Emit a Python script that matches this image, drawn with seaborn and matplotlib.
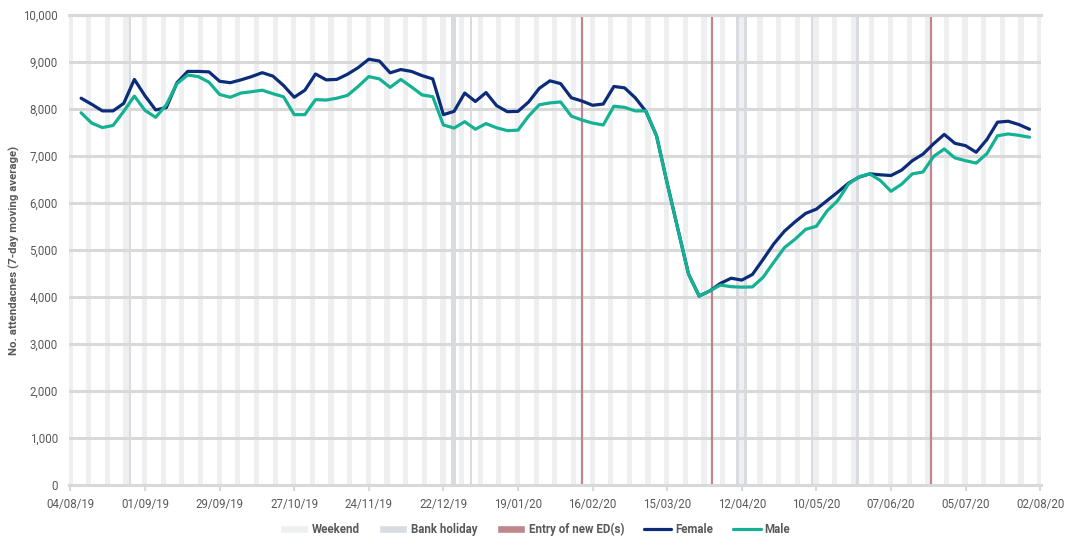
import pandas as pd
import matplotlib.pyplot as plt
import matplotlib.ticker as mticker
from matplotlib.patches import Patch
from matplotlib.lines import Line2D
import seaborn as sns

# 7-day moving average, read every 4 days from 08/08/19
dates = pd.date_range("2019-08-08", periods=90, freq="4D")

female = [8230, 8100, 7960, 7960, 8120, 8630, 8280, 7980, 8030, 8560,
          8800, 8800, 8790, 8590, 8560, 8620, 8690, 8773, 8700, 8500,
          8250, 8400, 8745, 8620, 8630, 8740, 8880, 9060, 9020, 8770,
          8840, 8800, 8710, 8640, 7880, 7950, 8340, 8160, 8350, 8070,
          7943, 7950, 8150, 8440, 8600, 8540, 8240, 8170, 8080, 8106,
          8480, 8450, 8240, 7950, 7430, 6420, 5450, 4490, 4020, 4130,
          4290, 4400, 4360, 4480, 4800, 5130, 5400, 5600, 5780, 5870,
          6050, 6230, 6420, 6550, 6620, 6600, 6585, 6700, 6900, 7040,
          7260, 7460, 7270, 7220, 7080, 7350, 7720, 7740, 7670, 7570]

male = [7920, 7700, 7605, 7650, 7950, 8275, 7970, 7823, 8090, 8540,
        8723, 8690, 8570, 8310, 8250, 8340, 8368, 8400, 8326, 8260,
        7880, 7880, 8200, 8190, 8230, 8290, 8480, 8690, 8640, 8460,
        8630, 8470, 8300, 8262, 7660, 7595, 7730, 7570, 7690, 7600,
        7540, 7550, 7850, 8090, 8130, 8150, 7850, 7766, 7700, 7660,
        8060, 8035, 7960, 7960, 7430, 6420, 5450, 4490, 4020, 4130,
        4255, 4220, 4210, 4215, 4420, 4740, 5050, 5230, 5440, 5505,
        5830, 6050, 6400, 6560, 6620, 6480, 6250, 6400, 6620, 6660,
        6990, 7150, 6960, 6900, 6850, 7050, 7430, 7470, 7440, 7400]

bank_holidays = ["2019-08-26", "2019-12-25", "2019-12-26", "2020-01-01",
                 "2020-04-10", "2020-04-13", "2020-05-08", "2020-05-25"]
new_ed_entries = ["2020-02-12", "2020-04-01", "2020-06-22"]
tick_dates = pd.date_range("2019-08-04", "2020-08-02", freq="28D")

WEEKEND_C = "#EEEFF1"
BANK_C = "#D8DCE1"
ED_C = "#C1858E"
FEMALE_C = "#0C2B78"
MALE_C = "#14B193"
GRID_C = "#D9D9D9"
TEXT_C = "#595959"

df = pd.DataFrame({"date": list(dates) * 2,
                   "value": female + male,
                   "sex": ["Female"] * len(dates) + ["Male"] * len(dates)})

sns.set_theme(style="white")
plt.rcParams["font.family"] = ["Roboto", "DejaVu Sans"]

fig = plt.figure(figsize=(10.66, 5.36), dpi=100)
ax = fig.add_axes([0.0647, 0.0951, 0.9118, 0.8769])

# weekend and bank holiday bands
all_days = pd.date_range("2019-08-01", "2020-08-04")
day = pd.Timedelta(days=1)
for sat in all_days[all_days.dayofweek == 5]:
    ax.axvspan(sat - 0.15 * day, sat + 1.8 * day, color=WEEKEND_C, lw=0, zorder=0)
for bh in pd.to_datetime(bank_holidays):
    ax.axvspan(bh - 0.1 * day, bh + 0.9 * day, color=BANK_C, lw=0, zorder=0.1)
for ed in pd.to_datetime(new_ed_entries):
    ax.axvline(ed, color=ED_C, lw=1.6, zorder=1)

sns.lineplot(data=df, x="date", y="value", hue="sex",
             palette={"Female": FEMALE_C, "Male": MALE_C},
             lw=2.3, ax=ax, legend=False, zorder=3)

ax.set_xlim(pd.Timestamp("2019-08-04") - 0.55 * day,
            pd.Timestamp("2020-08-02") + 0.3 * day)
ax.set_ylim(0, 10000)
ax.set_xticks(tick_dates)
ax.set_xticklabels([d.strftime("%d/%m/%y") for d in tick_dates])
ax.yaxis.set_major_locator(mticker.MultipleLocator(1000))
ax.yaxis.set_major_formatter(mticker.StrMethodFormatter("{x:,.0f}"))

ax.set_axisbelow(True)
ax.yaxis.grid(True, color=GRID_C, lw=2.2, zorder=0.5)
ax.xaxis.grid(False)
for side in ["left", "right"]:
    ax.spines[side].set_visible(False)
for side in ["top", "bottom"]:
    ax.spines[side].set_color(GRID_C)
    ax.spines[side].set_linewidth(2.2)

ax.tick_params(axis="x", direction="out", length=4, width=1.5, color=GRID_C,
               labelsize=8.3, labelcolor=TEXT_C, pad=5, bottom=True)
ax.tick_params(axis="y", length=0, labelsize=8.3, labelcolor=TEXT_C, pad=8)

ax.set_xlabel("")
ax.set_ylabel("No. attendacnes (7-day moving average)", fontsize=8.2,
              fontweight="bold", color=TEXT_C, labelpad=2)

handles = [Patch(facecolor=WEEKEND_C, label="Weekend"),
           Patch(facecolor=BANK_C, label="Bank holiday"),
           Patch(facecolor=ED_C, label="Entry of new ED(s)"),
           Line2D([], [], color=FEMALE_C, lw=2.3, label="Female"),
           Line2D([], [], color=MALE_C, lw=2.3, label="Male")]
fig.legend(handles=handles, loc="center", bbox_to_anchor=(0.502, 0.012),
           ncol=5, frameon=False, handlelength=2.4, handleheight=0.6,
           handletextpad=0.35, columnspacing=1.7,
           prop={"weight": "bold", "size": 8.3}, labelcolor=TEXT_C)

fig.savefig("out.png", dpi=100)
